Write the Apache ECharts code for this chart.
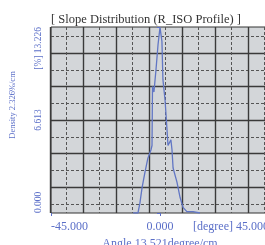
<!DOCTYPE html>
<html>
<head>
<meta charset="utf-8">
<script src="https://cdn.jsdelivr.net/npm/echarts@6/dist/echarts.min.js"></script>
<style>
html, body { margin: 0; padding: 0; background: #fff; }
#main { width: 265px; height: 245px; }
</style>
</head>
<body>
<div id="main"></div>
<script>
// 数据 (读自图片)
var angleDeg = [-11.1, -9.1, -8.3, -7.4, -6.2, -5.0, -3.7, -3.3, -3.1, -2.5, -1.65, -0.8, 0, 0.8, 1.2, 2.1, 2.9, 3.3, 4.5, 4.95, 5.4, 7.0, 8.3, 9.5, 11.1, 13.6, 16.5];
var density = [0, 0, 0.7, 1.8, 2.9, 3.9, 4.5, 4.8, 9.0, 8.6, 10.2, 12.0, 13.2, 12.2, 9.5, 8.0, 5.9, 4.8, 5.2, 4.5, 3.2, 2.2, 1.1, 0.4, 0.1, 0.1, 0];
var xMin = -45, xMax = 45;
var yMax = 13.226;
var titleText = '[ Slope Distribution (R_ISO Profile) ]';
var xName = 'Angle 13.521degree/cm';
var yName = 'Density 2.326%/cm';

var blue = '#5b6fc8';
var font = "'Liberation Serif', 'DejaVu Serif', serif";

var myChart = echarts.init(document.getElementById('main'));

// 网格线用的隐藏坐标轴
function hiddenAxis(gridIndex, max, lineType, show) {
	return {
		type: 'value', gridIndex: gridIndex, min: 0, max: max, interval: 1,
		axisLine: { show: false }, axisTick: { show: false }, axisLabel: { show: false },
		z: 1,
		splitLine: {
			show: show,
			lineStyle: lineType == 'solid' ? { color: '#3a3a3a', width: 1.4 } : { color: '#555', width: 1, type: [3, 2] }
		}
	};
}

var option = {
	animation: false,
	backgroundColor: '#fff',
	title: {
		text: titleText, left: 46, top: 8,
		textStyle: { fontFamily: font, fontSize: 12.5, fontWeight: 'normal', color: '#333' }
	},
	grid: [
		{ left: 51, top: 27, width: 218, height: 186, outerBoundsMode: 'none', show: true, backgroundColor: '#d3d6d9', borderColor: '#333', borderWidth: 1 },
		{ left: 50, top: 27, width: 231, height: 186, outerBoundsMode: 'none' },
		{ left: 66.5, top: 27, width: 198, height: 186, outerBoundsMode: 'none' },
		{ left: 51, top: 53, width: 218, height: 134, outerBoundsMode: 'none' },
		{ left: 51, top: 36.25, width: 218, height: 167.5, outerBoundsMode: 'none' }
	],
	xAxis: [{
		type: 'value', gridIndex: 0, min: xMin, max: xMax, interval: 45,
		name: xName, nameLocation: 'middle', nameGap: 22,
		nameTextStyle: { fontFamily: font, fontSize: 12, color: blue },
		axisLine: { show: false },
		axisTick: { show: true, length: 3, lineStyle: { color: blue } },
		splitLine: { show: false },
		axisLabel: {
			fontFamily: font, fontSize: 12, color: blue, margin: 8,
			alignMinLabel: 'left', alignMaxLabel: 'right',
			formatter: function(v) {
				return (v == xMax ? '[degree] ' : '') + v.toFixed(3);
			}
		}
	},
		hiddenAxis(1, 7, 'solid', true),
		hiddenAxis(2, 6, 'dashed', true),
		hiddenAxis(3, 1, 'solid', false),
		hiddenAxis(4, 1, 'dashed', false)
	],
	yAxis: [{
		type: 'value', gridIndex: 0, min: 0, max: yMax, interval: yMax / 2,
		name: yName, nameLocation: 'middle', nameGap: 34, nameRotate: 90,
		nameTextStyle: { fontFamily: font, fontSize: 8.5, color: blue, padding: [0, 0, 0, 30] },
		axisLine: { show: false },
		axisTick: { show: true, length: 3, lineStyle: { color: blue } },
		splitLine: { show: false },
		axisLabel: {
			fontFamily: font, fontSize: 9.5, color: blue, rotate: 90, margin: 8,
			alignMinLabel: 'left', alignMaxLabel: 'right',
			formatter: function(v) {
				return (Math.abs(v - yMax) < 1e-6 ? '[%] ' : '') + v.toFixed(3);
			}
		}
	},
		hiddenAxis(1, 1, 'solid', false),
		hiddenAxis(2, 1, 'dashed', false),
		hiddenAxis(3, 4, 'solid', true),
		hiddenAxis(4, 5, 'dashed', true)
	],
	series: [{
		type: 'line',
		xAxisIndex: 0, yAxisIndex: 0,
		data: angleDeg.map(function(a, i) { return [a, density[i]]; }),
		showSymbol: false,
		z: 5,
		lineStyle: { color: '#6176c4', width: 1.3 }
	}]
};
myChart.setOption(option);
</script>
</body>
</html>
